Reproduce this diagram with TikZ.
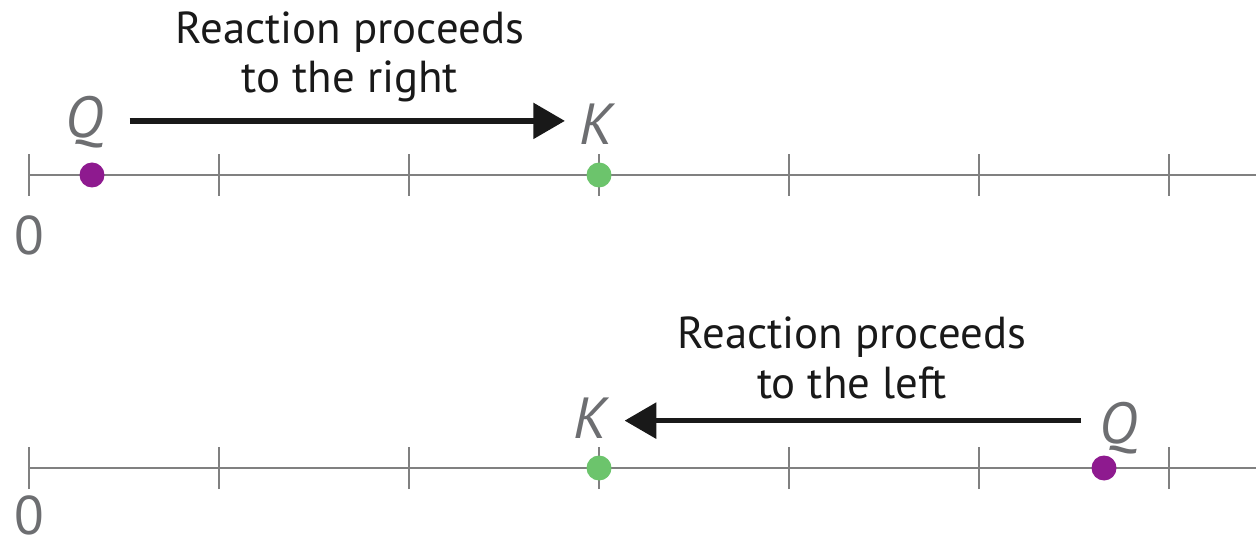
\documentclass[tikz,border=0pt]{standalone}
\usepackage{fontspec}
\setmainfont{PT Sans}
\usetikzlibrary{arrows.meta,positioning}

\definecolor{axisgray}{HTML}{808080}
\definecolor{lblgray}{HTML}{6D6E71}
\definecolor{qpurple}{HTML}{8E1A8F}
\definecolor{kgreen}{HTML}{6CC46C}

\begin{document}
\begin{tikzpicture}[
  axis/.style={draw=axisgray, line width=1.7pt},
  tick/.style={draw=axisgray, line width=1.3pt},
  dot/.style={circle, inner sep=0pt, minimum size=0.5cm},
  qdot/.style={dot, fill=qpurple},
  kdot/.style={dot, fill=kgreen},
  varlbl/.style={anchor=base, inner sep=0pt, text=lblgray,
                 font=\fontsize{33}{34}\selectfont\itshape},
  zerolbl/.style={anchor=base, inner sep=0pt, text=lblgray,
                  font=\fontsize{31}{32}\selectfont},
  caption/.style={align=center, text=black!90,
                  font=\fontsize{25.5}{28}\selectfont},
  arr/.style={-{Triangle[length=18pt,width=20pt]}, line width=3pt, black!90}
]
\useasboundingbox (0,0) rectangle (25.12,10.88);

% top line: Q below K
\draw[axis] (0.58,7.38) -- (25.12,7.38);
\foreach \x in {0.58,4.38,...,23.4}
  \draw[tick] (\x,6.96) -- (\x,7.80);
\node[zerolbl] (zeroA) at (0.58,5.78) {0};
\node[qdot] (qdotA) at (1.84,7.38) {};
\node[kdot] (kdotA) at (11.98,7.38) {};
\node[varlbl] (qlblA) at (1.68,8.12) {Q};
\node[varlbl] (klblA) at (11.92,7.98) {K};
\node[caption] (capA) at (7.0,9.74) {Reaction proceeds\\to the right};
\draw[arr, shorten <=15pt, shorten >=8pt]
  ([yshift=1pt]qlblA.east) -- ([yshift=1pt]qlblA.east -| klblA.west);

% bottom line: Q above K
\draw[axis] (0.58,1.52) -- (25.12,1.52);
\foreach \x in {0.58,4.38,...,23.4}
  \draw[tick] (\x,1.10) -- (\x,1.94);
\node[zerolbl] (zeroB) at (0.58,0.2) {0};
\node[kdot] (kdotB) at (11.98,1.52) {};
\node[qdot] (qdotB) at (22.08,1.52) {};
\node[varlbl] (klblB) at (11.8,2.12) {K};
\node[varlbl] (qlblB) at (22.36,2.02) {Q};
\node[caption] (capB) at (17.04,3.72) {Reaction proceeds\\to the left};
\draw[arr, shorten <=10pt, shorten >=10pt]
  ([yshift=4pt]qlblB.west) -- ([yshift=4pt]qlblB.west -| klblB.east);
\end{tikzpicture}
\end{document}
